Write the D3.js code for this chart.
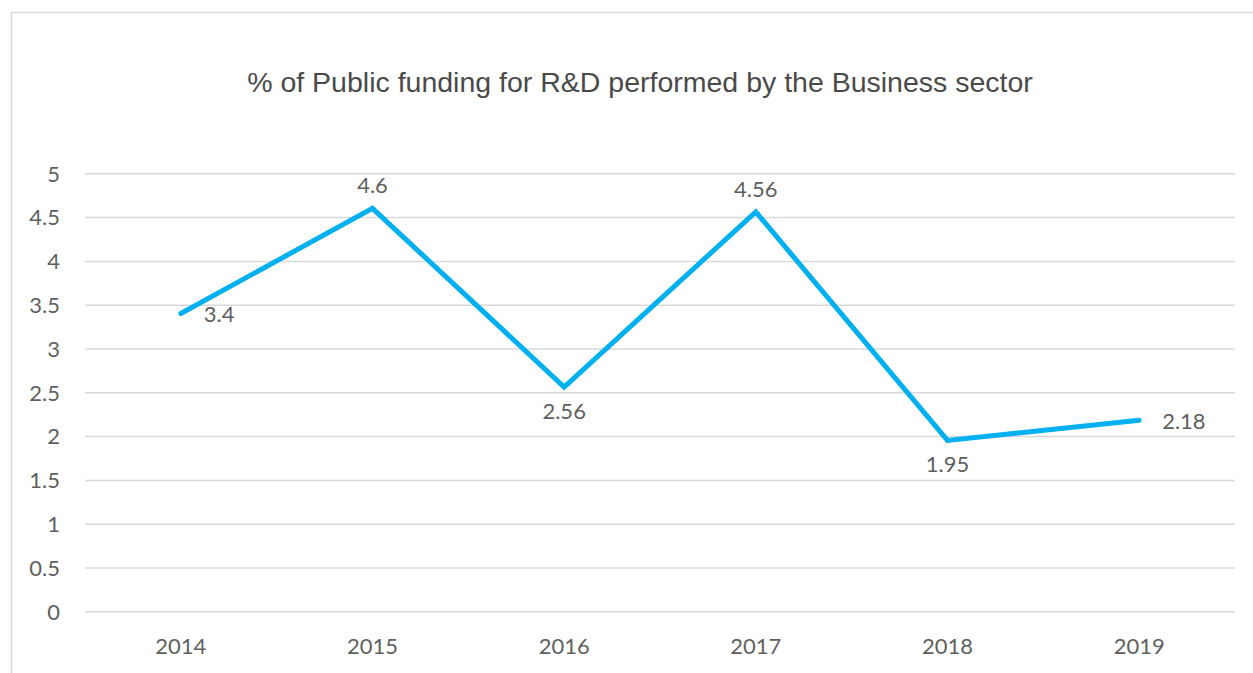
<!DOCTYPE html>
<html>
<head>
<meta charset="utf-8">
<script src="https://cdn.jsdelivr.net/npm/d3@7"></script>
<style>
  html, body { margin: 0; padding: 0; background: #fff; }
  svg { display: block; }
</style>
</head>
<body>
<svg id="chart" width="1253" height="673"></svg>
<script>
const years = ["2014", "2015", "2016", "2017", "2018", "2019"];
const values = [3.4, 4.6, 2.56, 4.56, 1.95, 2.18];
const labelPos = ["right", "top", "bottom", "top", "bottom", "right"];
const yTicks = [0, 0.5, 1, 1.5, 2, 2.5, 3, 3.5, 4, 4.5, 5];
const title = "% of Public funding for R&D performed by the Business sector";

const svg = d3.select("#chart");
const W = 1253, H = 673;
const plot = { left: 85, right: 1235, top: 173.3, bottom: 611.3 };
const axisFont = "Lato, 'Open Sans', sans-serif";
const textColor = "#5f5f5f";

// Chart frame
svg.append("rect")
  .attr("x", 11.5).attr("y", 12.5)
  .attr("width", W + 10).attr("height", H + 10)
  .attr("fill", "#fff").attr("stroke", "#d9d9d9").attr("stroke-width", 1.5);

// Title
svg.append("text")
  .attr("x", 640).attr("y", 92)
  .attr("text-anchor", "middle")
  .attr("font-family", "'Liberation Sans', Arial, sans-serif")
  .attr("font-size", 28.5)
  .attr("fill", "#4a4a4a")
  .text(title);

const x = d3.scaleBand().domain(years).range([plot.left, plot.right]).paddingInner(0).paddingOuter(0);
const y = d3.scaleLinear().domain([0, 5]).range([plot.bottom, plot.top]);

// Gridlines + y tick labels
const yAxis = d3.axisLeft(y)
  .tickValues(yTicks)
  .tickSize(-(plot.right - plot.left))
  .tickPadding(25)
  .tickFormat(d => String(d));
const gy = svg.append("g").attr("transform", `translate(${plot.left},0)`).call(yAxis);
gy.select(".domain").remove();
gy.selectAll(".tick line").attr("stroke", "#d9d9d9").attr("stroke-width", 1.5);
gy.selectAll(".tick text")
  .attr("font-family", axisFont).attr("font-size", 22)
  .attr("fill", textColor).attr("dy", "0.35em");

// x labels
const xAxis = d3.axisBottom(x).tickSize(0).tickPadding(27);
const gx = svg.append("g").attr("transform", `translate(0,${plot.bottom})`).call(xAxis);
gx.select(".domain").remove();
gx.selectAll(".tick text")
  .attr("font-family", axisFont).attr("font-size", 22)
  .attr("fill", textColor);

// Series line
const cx = d => x(d) + x.bandwidth() / 2;
const line = d3.line().x((d, i) => cx(years[i])).y(d => y(d));
svg.append("path")
  .datum(values)
  .attr("d", line)
  .attr("fill", "none")
  .attr("stroke", "#00b0f0")
  .attr("stroke-width", 5)
  .attr("stroke-linecap", "round")
  .attr("stroke-linejoin", "miter");

// Data labels
svg.append("g").selectAll("text")
  .data(values)
  .join("text")
  .attr("font-family", axisFont).attr("font-size", 22)
  .attr("fill", textColor)
  .attr("text-anchor", (d, i) => labelPos[i] === "right" ? "start" : "middle")
  .attr("x", (d, i) => cx(years[i]) + (labelPos[i] === "right" ? 23 : 0))
  .attr("y", (d, i) => {
    const py = y(d);
    if (labelPos[i] === "top") return py - 15;
    if (labelPos[i] === "bottom") return py + 32;
    return py + 9;
  })
  .text(d => String(d));
</script>
</body>
</html>
